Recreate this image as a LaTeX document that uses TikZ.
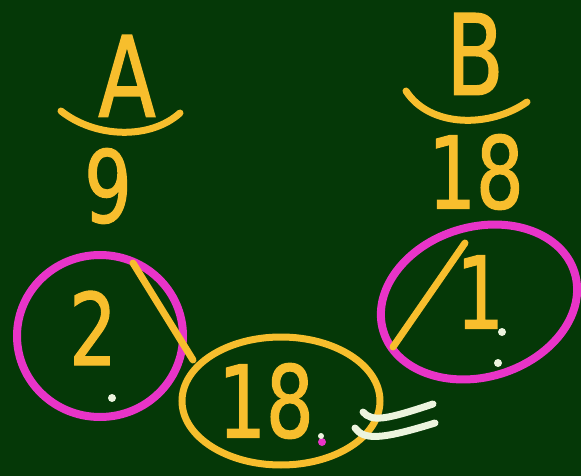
\documentclass[tikz,border=0pt]{standalone}
\usepackage{fontspec}
\newfontfamily\handfont[FakeStretch=0.75, FakeBold=1.2]{DejaVu Sans}
\usetikzlibrary{shapes.geometric}
\definecolor{boardgreen}{RGB}{5,56,7}
\definecolor{chalkyellow}{RGB}{247,190,45}
\definecolor{chalkpink}{RGB}{232,52,200}
\definecolor{chalkwhite}{RGB}{236,244,222}

\begin{document}
\begin{tikzpicture}[x=1pt, y=-1pt,
    hand/.style={text=chalkyellow, font=\handfont\fontsize{100}{100}\selectfont, inner sep=0pt},
    bighand/.style={hand, font=\handfont\fontsize{112}{112}\selectfont},
    yline/.style={draw=chalkyellow, line width=7pt, line cap=round},
    pring/.style={ellipse, draw=chalkpink, line width=8pt, inner sep=0pt},
    yring/.style={ellipse, draw=chalkyellow, line width=7pt, inner sep=0pt},
    wline/.style={draw=chalkwhite, line width=7pt, line cap=round},
    speck/.style={fill=chalkwhite}
]
    % board
    \fill[boardgreen] (0,0) rectangle (581,476);
    \useasboundingbox (0,0) rectangle (581,476);

    % fractions
    \node[bighand] (numA) at (127,76) {A};
    \node[hand] (denA) at (108,186) {9};
    \node[bighand] (numB) at (475,54) {B};
    \node[hand] (denB) at (476,172) {18};
    \draw[yline] (61,111) .. controls (95,138) and (150,140) .. (180,113);
    \draw[yline] (406,91) .. controls (430,128) and (490,128) .. (527,102);

    % circled results
    \node[hand] (two) at (93,328) {2};
    \node[hand] (lcm) at (266,401) {18};
    \node[hand] (one) at (480,292) {1};
    \node[pring, minimum width=166, minimum height=162] (ring2) at (100,336) {};
    \node[yring, minimum width=198, minimum height=128] (ring18) at (281,401) {};
    \node[pring, minimum width=200, minimum height=150, rotate=17] (ring1) at (479,302) {};

    % slashes down to the 18
    \coordinate (sl1) at (133,263);
    \coordinate (sl2) at (193,360);
    \coordinate (sr1) at (465,243);
    \coordinate (sr2) at (393,347);
    \draw[yline] (sl1) -- (sl2);
    \draw[yline] (sr1) -- (sr2);

    % equals sign
    \draw[wline] (363,412) .. controls (372,422) and (385,420) .. (433,404);
    \draw[wline] (355,428) .. controls (364,440) and (380,440) .. (435,423);

    % specks
    \fill[speck] (112,398) circle (4);
    \fill[speck] (502,332) circle (4);
    \fill[speck] (498,363) circle (4);
    \fill[chalkpink] (322,442) circle (4);
    \fill[speck] (321,436) circle (3);
\end{tikzpicture}
\end{document}
